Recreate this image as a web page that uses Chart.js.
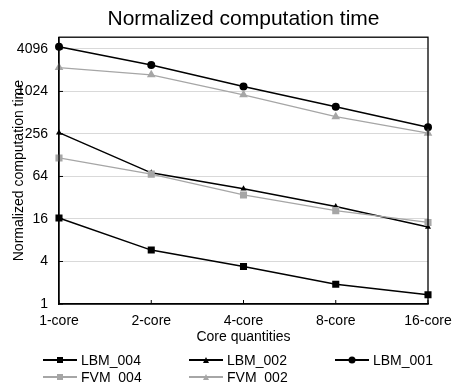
<!DOCTYPE html>
<html>
<head>
<meta charset="utf-8">
<script src="https://cdn.jsdelivr.net/npm/chart.js@4.4.1/dist/chart.umd.min.js"></script>
<style>
  body { margin: 0; background: #fff; }
  #wrap { position: relative; width: 454px; height: 383px; }
  #legend {
    position: absolute; left: 43px; top: 351px;
    display: grid; grid-template-columns: 146px 146px 146px;
    font: 14px Arial, "Liberation Sans", sans-serif; color: #000;
  }
  .item { display: flex; align-items: center; height: 17px; }
  .swatch { position: relative; width: 34px; height: 2px; margin-right: 4px; }
  .mk { position: absolute; left: 50%; top: 50%; transform: translate(-50%, -50%); }
</style>
</head>
<body>
<div id="wrap">
  <canvas id="chart" width="454" height="383"></canvas>
  <div id="legend"></div>
</div>
<script>
// categories and values
const categories = ['1-core', '2-core', '4-core', '8-core', '16-core'];
const lbm004 = [16.5, 5.8, 3.4, 1.9, 1.35];
const lbm002 = [267, 72, 43, 24, 12.3];
const lbm001 = [4400, 2430, 1200, 620, 318];
const fvm004 = [117, 69, 35, 21, 14.3];
const fvm002 = [2230, 1760, 916, 450, 262];
const yTicks = [1, 4, 16, 64, 256, 1024, 4096];

const BLACK = '#000000';
const GRAY = '#a6a6a6';
const FONT = 'Arial, "Liberation Sans", sans-serif';

// black frame round the plot + small inward tick marks
const framePlugin = {
  id: 'frame',
  afterDatasetsDraw(chart) {
    const { ctx, chartArea: a, scales } = chart;
    ctx.save();
    ctx.strokeStyle = '#000';
    ctx.lineWidth = 1.3;
    ctx.strokeRect(a.left, a.top, a.right - a.left, a.bottom - a.top);
    ctx.lineWidth = 1;
    ctx.beginPath();
    scales.x.ticks.forEach((t, i) => {
      const x = scales.x.getPixelForTick(i);
      ctx.moveTo(x, a.bottom);
      ctx.lineTo(x, a.bottom - 4);
    });
    scales.y.ticks.forEach((t, i) => {
      const y = scales.y.getPixelForTick(i);
      ctx.moveTo(a.left, y);
      ctx.lineTo(a.left + 4, y);
    });
    ctx.stroke();
    ctx.restore();
  }
};

const datasets = [
  { label: 'LBM_004', data: lbm004, color: BLACK, pointStyle: 'rect', pointRadius: 5, borderWidth: 1.5, order: 1, mark: 'sq' },
  { label: 'LBM_002', data: lbm002, color: BLACK, pointStyle: 'triangle', pointRadius: 3.5, borderWidth: 1.5, order: 1, mark: 'tri' },
  { label: 'LBM_001', data: lbm001, color: BLACK, pointStyle: 'circle', pointRadius: 4, borderWidth: 1.5, order: 1, mark: 'circ' },
  { label: 'FVM_004', data: fvm004, color: GRAY, pointStyle: 'rect', pointRadius: 5, borderWidth: 1.3, order: 0, mark: 'sq' },
  { label: 'FVM_002', data: fvm002, color: GRAY, pointStyle: 'triangle', pointRadius: 5, borderWidth: 1.3, order: 0, mark: 'tri' }
];

const chart = new Chart(document.getElementById('chart').getContext('2d'), {
  type: 'line',
  data: {
    labels: categories,
    datasets: datasets.map(d => ({
      label: d.label,
      data: d.data,
      borderColor: d.color,
      backgroundColor: d.color,
      pointBackgroundColor: d.color,
      pointBorderColor: d.color,
      pointBorderWidth: 0,
      pointStyle: d.pointStyle,
      pointRadius: d.pointRadius,
      borderWidth: d.borderWidth,
      order: d.order,
      tension: 0
    }))
  },
  options: {
    responsive: false,
    animation: false,
    layout: { padding: { left: 0, right: 0, top: 0, bottom: 37 } },
    plugins: {
      legend: { display: false },
      tooltip: { enabled: false },
      title: {
        display: true,
        fullSize: false,
        text: 'Normalized computation time',
        color: '#000',
        font: { family: FONT, size: 21, weight: 'normal' },
        padding: { top: 7, bottom: 5 }
      }
    },
    scales: {
      x: {
        offset: false,
        grid: { display: false, drawTicks: false },
        border: { color: '#000', width: 1.3 },
        ticks: { color: '#000', font: { family: FONT, size: 14 }, padding: 9, maxRotation: 0 },
        title: {
          display: true,
          text: 'Core quantities',
          color: '#000',
          font: { family: FONT, size: 14 },
          padding: { top: 0, bottom: 0 }
        },
        afterFit: s => { s.height = 42; s.paddingRight = 26; s.paddingLeft = 20; }
      },
      y: {
        type: 'logarithmic',
        min: 1,
        max: 6000,
        afterBuildTicks: s => { s.ticks = yTicks.map(v => ({ value: v })); },
        grid: { color: '#d9d9d9', lineWidth: 1, drawTicks: false },
        border: { color: '#000', width: 1.3 },
        ticks: {
          color: '#000',
          font: { family: FONT, size: 14 },
          padding: 11,
          autoSkip: false,
          callback: v => String(v)
        },
        title: {
          display: true,
          text: 'Normalized computation time',
          color: '#000',
          font: { family: FONT, size: 14 },
          padding: { top: 11, bottom: 0 }
        },
        afterFit: s => { s.width = 59; }
      }
    }
  },
  plugins: [framePlugin]
});

// legend laid out as a grid, like the original
const legend = document.getElementById('legend');
datasets.forEach(d => {
  const item = document.createElement('div');
  item.className = 'item';
  const sw = document.createElement('span');
  sw.className = 'swatch';
  sw.style.background = d.color;
  const mk = document.createElement('span');
  mk.className = 'mk';
  if (d.mark === 'sq') {
    mk.style.cssText += 'width:6px;height:6px;background:' + d.color;
  } else if (d.mark === 'circ') {
    mk.style.cssText += 'width:7px;height:7px;border-radius:50%;background:' + d.color;
  } else {
    mk.style.cssText += 'width:0;height:0;border-left:3.5px solid transparent;border-right:3.5px solid transparent;border-bottom:6px solid ' + d.color;
  }
  sw.appendChild(mk);
  const txt = document.createElement('span');
  txt.textContent = d.label;
  item.appendChild(sw);
  item.appendChild(txt);
  legend.appendChild(item);
});
</script>
</body>
</html>
